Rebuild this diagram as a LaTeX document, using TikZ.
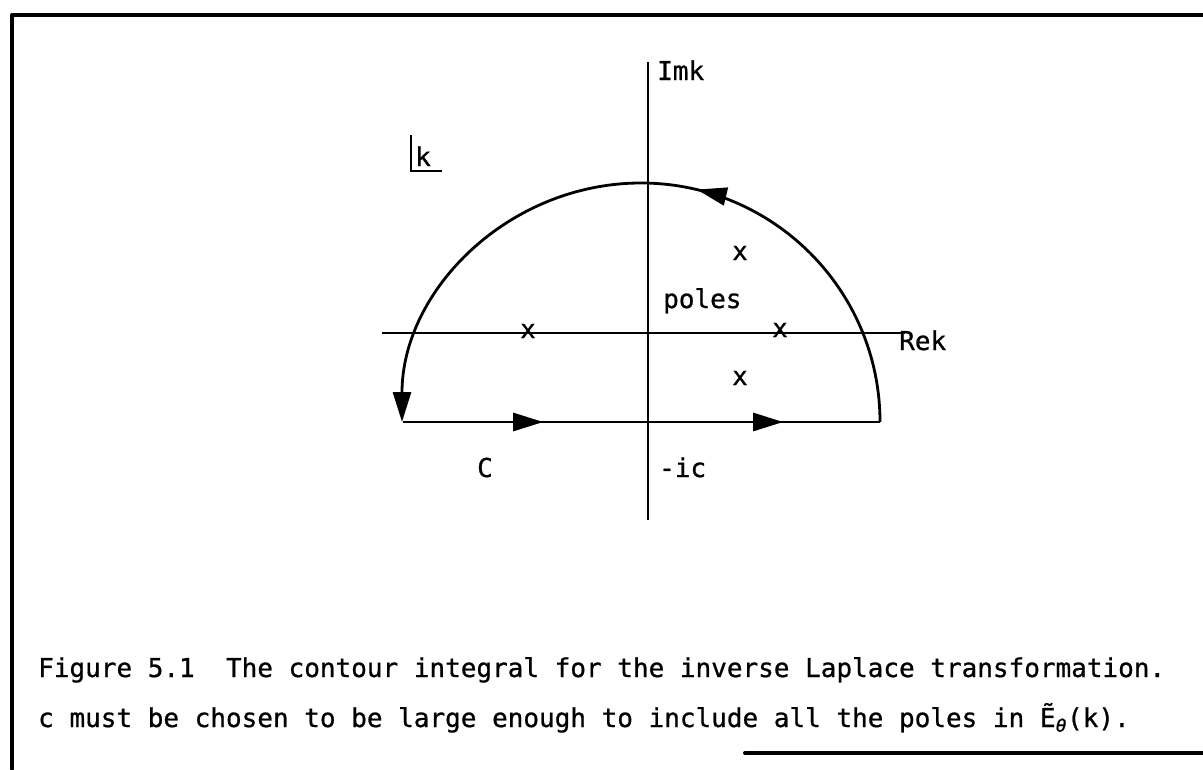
\documentclass[tikz,border=0pt]{standalone}
\usepackage{fontspec}
\setmainfont[FakeBold=0.8]{DejaVu Sans Mono}
\usetikzlibrary{arrows.meta,decorations.markings}
\begin{document}
\begin{tikzpicture}[x=1pt,y=1pt,
  lbl/.style={inner sep=0pt, font=\fontsize{26}{30}\selectfont},
  frame/.style={line width=4pt, line cap=round, line join=round},
  axis/.style={line width=2.2pt},
  contour/.style={line width=2.8pt},
  >={Triangle[length=30pt,width=18pt]}]
\useasboundingbox (0,0) rectangle (1203,-769);
% frame
\coordinate (tl) at (12,-15);
\coordinate (tr) at (1203,-15);
\coordinate (bl) at (12,-769);
\coordinate (br1) at (745,-753);
\coordinate (br2) at (1203,-753);
\draw[frame] (tr) -- (tl) -- (bl);
\draw[frame] (br1) -- (br2);
% axes
\coordinate (ytop) at (648,-62);
\coordinate (ybot) at (648,-520);
\coordinate (xl) at (382,-333);
\coordinate (xr) at (905,-333);
\draw[axis] (ytop) -- (ybot);
\draw[axis] (xl) -- (xr);
% contour
\coordinate (A) at (403,-422);
\coordinate (B) at (880,-422);
\draw[contour, decoration={markings,
   mark=at position 0.294 with {\arrow{>}},
   mark=at position 0.797 with {\arrow{>}}}, postaction={decorate}] (A) -- (B);
\draw[contour, ->, decoration={markings,
   mark=at position 0.425 with {\arrow{>}}}, postaction={decorate}]
   (B) arc[start angle=0, end angle=180, radius=239];
% poles
\node[lbl] (p1) at (528,-331) {x};
\node[lbl] (p2) at (780,-330) {x};
\node[lbl] (p3) at (740,-253) {x};
\node[lbl] (p4) at (740,-378) {x};
% labels
\node[lbl, anchor=base west] (imk) at (657,-80) {Imk};
\node[lbl, anchor=base west] (rek) at (899,-350) {Rek};
\node[lbl, anchor=base west] (poles) at (663,-308) {poles};
\node[lbl, anchor=base west] (C) at (477,-477) {C};
\node[lbl, anchor=base west] (ic) at (659,-477) {-ic};
% k-plane marker
\coordinate (k1) at (411,-135);
\coordinate (k2) at (411,-171);
\coordinate (k3) at (442,-171);
\draw[axis] (k1) -- (k2) -- (k3);
\node[lbl, anchor=base west] (kk) at (415,-166) {k};
% caption
\node[lbl, anchor=base west] (cap1) at (38,-677) {Figure 5.1~~The contour integral for the inverse Laplace transformation.};
\node[lbl, anchor=base west] (cap2) at (38,-727) {c must be chosen to be large enough to include all the poles in Ẽ\textsubscript{\itshape θ}(k).};
\end{tikzpicture}
\end{document}
